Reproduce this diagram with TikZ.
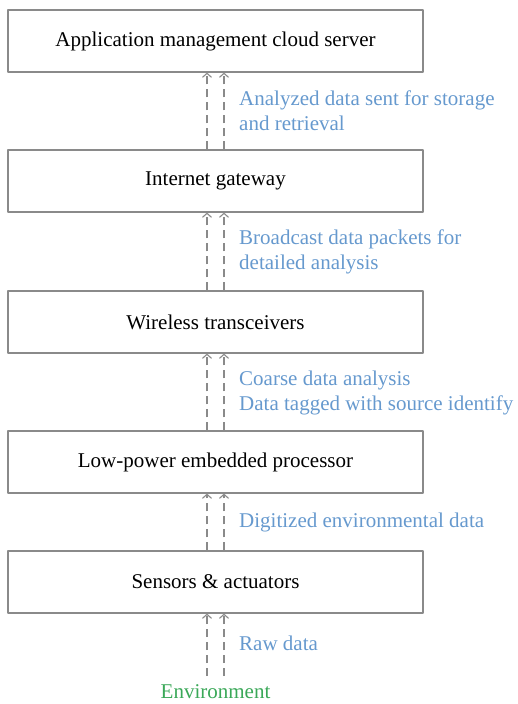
\documentclass[tikz,border=0pt]{standalone}
\usepackage{fontspec}
\setmainfont{Liberation Serif}
\usetikzlibrary{positioning,arrows.meta}
\definecolor{labelblue}{RGB}{102,153,206}
\definecolor{envgreen}{RGB}{58,168,88}
\definecolor{linegray}{RGB}{138,138,138}

\begin{document}
\begin{tikzpicture}[x=1pt,y=1pt,line join=round,font=\fontsize{21}{25}\selectfont,
	layer/.style={draw=linegray,line width=1.2pt,minimum width=415pt,minimum height=62pt,inner sep=0pt},
	flow/.style={draw=linegray,line width=1.1pt,dash pattern=on 8pt off 5pt,-{Straight Barb[length=4pt,width=9pt]}},
	note/.style={text=labelblue,anchor=west,align=left,inner sep=0pt,font=\fontsize{21}{25}\selectfont}]
	\def \xa{-8.5};
	\def \xb{8.5};
	\useasboundingbox (0,0) rectangle (517,-704);
	% layers
	\node[layer] (cloud) at (215.5,-41) {Application management cloud server};
	\node[layer] (gateway) at (215.5,-181) {Internet gateway};
	\node[layer] (radio) at (215.5,-322) {Wireless transceivers};
	\node[layer] (cpu) at (215.5,-462) {Low-power embedded processor};
	\node[layer] (sensors) at (215.5,-582) {Sensors \& actuators};
	\node[text=envgreen,inner sep=0pt] (env) at (215.5,-692) {Environment};
	\coordinate (envtop) at (215.5,-676);
	% dashed uplinks
	\foreach \lo/\hi in {envtop/sensors,sensors/cpu,cpu/radio,radio/gateway,gateway/cloud}
	{
		\draw[flow] ([xshift=\xa]\lo.north) -- ([xshift=\xa]\hi.south);
		\draw[flow] ([xshift=\xb]\lo.north) -- ([xshift=\xb]\hi.south);
	}
	% labels
	\node[note] (l1) at (239,-110.5) {Analyzed data sent for storage\\and retrieval};
	\node[note] (l2) at (239,-252) {Broadcast data packets for\\detailed analysis};
	\node[note] (l3) at (239,-392.5) {Coarse data analysis\\Data tagged with source identify};
	\node[note] (l4) at (239,-522) {Digitized environmental data};
	\node[note] (l5) at (239,-643) {Raw data};
\end{tikzpicture}
\end{document}
